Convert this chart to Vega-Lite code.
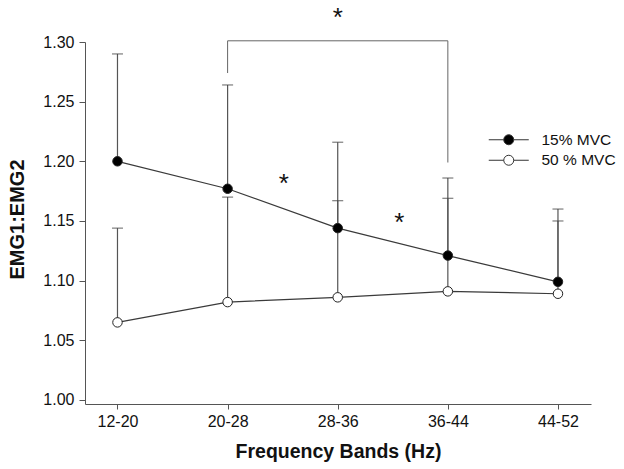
{
  "$schema": "https://vega.github.io/schema/vega-lite/v6.json",
  "width": 506,
  "height": 362,
  "autosize": {"type": "none"},
  "padding": {"left": 85, "top": 42, "right": 33, "bottom": 65},
  "background": "white",
  "config": {
    "view": {"stroke": null},
    "font": "Liberation Sans",
    "axis": {
      "domainColor": "#555",
      "tickColor": "#555",
      "labelColor": "#111",
      "titleColor": "#111",
      "labelFont": "Liberation Sans",
      "titleFont": "Liberation Sans",
      "grid": false
    }
  },
  "datasets": {
    "main": [
      {"band": "12-20", "idx": 0, "series": "15% MVC", "mean": 1.200, "upper": 1.290},
      {"band": "20-28", "idx": 1, "series": "15% MVC", "mean": 1.177, "upper": 1.264},
      {"band": "28-36", "idx": 2, "series": "15% MVC", "mean": 1.144, "upper": 1.216},
      {"band": "36-44", "idx": 3, "series": "15% MVC", "mean": 1.121, "upper": 1.186},
      {"band": "44-52", "idx": 4, "series": "15% MVC", "mean": 1.099, "upper": 1.160},
      {"band": "12-20", "idx": 0, "series": "50 % MVC", "mean": 1.065, "upper": 1.144},
      {"band": "20-28", "idx": 1, "series": "50 % MVC", "mean": 1.082, "upper": 1.170},
      {"band": "28-36", "idx": 2, "series": "50 % MVC", "mean": 1.086, "upper": 1.167},
      {"band": "36-44", "idx": 3, "series": "50 % MVC", "mean": 1.091, "upper": 1.169},
      {"band": "44-52", "idx": 4, "series": "50 % MVC", "mean": 1.089, "upper": 1.150}
    ],
    "bracketH": [
      {"x": 1, "x2": 3, "y": 1.301}
    ],
    "bracketV": [
      {"x": 1, "y": 1.301, "y2": 1.274},
      {"x": 3, "y": 1.301, "y2": 1.199}
    ],
    "stars": [
      {"x": 2.0, "y": 1.3256, "label": "*"},
      {"x": 1.51, "y": 1.1865, "label": "*"},
      {"x": 2.56, "y": 1.1538, "label": "*"}
    ]
  },
  "layer": [
    {
      "data": {"name": "main"},
      "mark": {"type": "rule", "color": "#555", "strokeWidth": 1.2},
      "encoding": {
        "x": {
          "field": "idx",
          "type": "quantitative",
          "scale": {"domain": [-0.295, 4.3], "nice": false, "zero": false},
          "axis": {
            "values": [0, 1, 2, 3, 4],
            "labelExpr": "['12-20','20-28','28-36','36-44','44-52'][datum.value]",
            "labelFontSize": 16,
            "tickSize": 5,
            "labelPadding": 4,
            "title": "Frequency Bands (Hz)",
            "titleFontSize": 19.5,
            "titleFontWeight": "bold",
            "titleY": 53,
            "titleBaseline": "alphabetic"
          }
        },
        "y": {
          "field": "mean",
          "type": "quantitative",
          "scale": {"domain": [0.9966, 1.3], "nice": false, "zero": false},
          "axis": {
            "values": [1.0, 1.05, 1.1, 1.15, 1.2, 1.25, 1.3],
            "format": ".2f",
            "labelFontSize": 16,
            "tickSize": 6,
            "labelPadding": 5,
            "title": "EMG1:EMG2",
            "titleFontSize": 20,
            "titleFontWeight": "bold",
            "titleX": -68,
            "titleY": 177,
            "titleBaseline": "middle",
            "titleAlign": "center"
          }
        },
        "y2": {"field": "upper"}
      }
    },
    {
      "data": {"name": "main"},
      "mark": {"type": "tick", "orient": "horizontal", "size": 11, "thickness": 1.2, "color": "#444"},
      "encoding": {
        "x": {"field": "idx", "type": "quantitative"},
        "y": {"field": "upper", "type": "quantitative"}
      }
    },
    {
      "data": {"name": "main"},
      "mark": {"type": "line", "color": "#3a3a3a", "strokeWidth": 1.2},
      "encoding": {
        "x": {"field": "idx", "type": "quantitative"},
        "y": {"field": "mean", "type": "quantitative"},
        "detail": {"field": "series"},
        "order": {"field": "idx"}
      }
    },
    {
      "data": {"name": "main"},
      "mark": {"type": "point", "shape": "circle", "size": 90, "stroke": "#222", "strokeWidth": 1, "opacity": 1, "filled": true},
      "encoding": {
        "x": {"field": "idx", "type": "quantitative"},
        "y": {"field": "mean", "type": "quantitative"},
        "fill": {
          "field": "series",
          "type": "nominal",
          "scale": {"domain": ["15% MVC", "50 % MVC"], "range": ["black", "white"]},
          "legend": {
            "title": null,
            "orient": "none",
            "legendX": 416,
            "legendY": 90,
            "padding": 0,
            "symbolType": "M-4,0H-1M1,0H4M-1,0A1,1 0 1,1 1,0A1,1 0 1,1 -1,0Z",
            "symbolSize": 100,
            "symbolStrokeColor": "#333",
            "symbolStrokeWidth": 1,
            "symbolOpacity": 1,
            "labelFontSize": 15.5,
            "labelColor": "#111",
            "labelOffset": 25,
            "rowPadding": 3.5
          }
        }
      }
    },
    {
      "data": {"name": "bracketH"},
      "mark": {"type": "rule", "color": "#666", "strokeWidth": 1},
      "encoding": {
        "x": {"field": "x", "type": "quantitative"},
        "x2": {"field": "x2"},
        "y": {"field": "y", "type": "quantitative"}
      }
    },
    {
      "data": {"name": "bracketV"},
      "mark": {"type": "rule", "color": "#666", "strokeWidth": 1},
      "encoding": {
        "x": {"field": "x", "type": "quantitative"},
        "y": {"field": "y", "type": "quantitative"},
        "y2": {"field": "y2"}
      }
    },
    {
      "data": {"name": "stars"},
      "mark": {"type": "text", "fontSize": 26, "baseline": "middle", "align": "center", "dy": 7, "color": "#111"},
      "encoding": {
        "x": {"field": "x", "type": "quantitative"},
        "y": {"field": "y", "type": "quantitative"},
        "text": {"field": "label"}
      }
    }
  ]
}
